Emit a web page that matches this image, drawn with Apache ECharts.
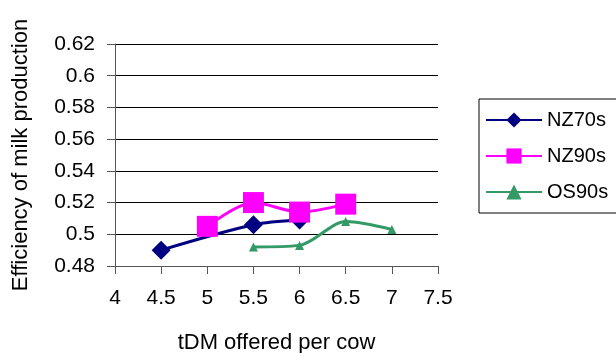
<!DOCTYPE html>
<html>
<head>
<meta charset="utf-8">
<script src="https://cdn.jsdelivr.net/npm/echarts@6/dist/echarts.min.js"></script>
<style>
  html, body { margin: 0; padding: 0; background: #fff; }
  #chart { width: 616px; height: 353px; }
</style>
</head>
<body>
<div id="chart"></div>
<script>
// Feed offered (tDM per cow) and efficiency of milk production per herd group
const nz70sX = [4.5, 5.5, 6.0];
const nz70sY = [0.490, 0.506, 0.509];
const nz90sX = [5.0, 5.5, 6.0, 6.5];
const nz90sY = [0.505, 0.520, 0.514, 0.519];
const os90sX = [5.5, 6.0, 6.5, 7.0];
const os90sY = [0.492, 0.493, 0.508, 0.503];

const xTitle = 'tDM offered per cow';
const yTitle = 'Efficiency of milk production';

const pairs = (xs, ys) => xs.map((x, i) => [x, ys[i]]);
const FONT = 'Liberation Sans, Arial, sans-serif';

const chart = echarts.init(document.getElementById('chart'), null, { renderer: 'canvas' });

chart.setOption({
  animation: false,
  backgroundColor: '#ffffff',
  grid: {
    left: 115, right: 178, top: 44, bottom: 87,
    containLabel: false,
    outerBoundsMode: 'none'
  },
  xAxis: {
    type: 'value',
    min: 4, max: 7.5, interval: 0.5,
    name: xTitle,
    nameLocation: 'middle',
    nameGap: 66,
    nameTextStyle: { fontFamily: FONT, fontSize: 22, color: '#000' },
    axisLine: { show: true, lineStyle: { color: '#555', width: 1 } },
    axisTick: { show: true, length: 8, lineStyle: { color: '#555' } },
    axisLabel: { fontFamily: FONT, fontSize: 21, color: '#000', margin: 22 },
    splitLine: { show: false }
  },
  yAxis: {
    type: 'value',
    min: 0.48, max: 0.62, interval: 0.02,
    name: yTitle,
    nameLocation: 'middle',
    nameGap: 83,
    nameTextStyle: { fontFamily: FONT, fontSize: 22, color: '#000' },
    axisLine: { show: true, lineStyle: { color: '#555', width: 1 } },
    axisTick: { show: true, length: 8, lineStyle: { color: '#555' } },
    axisLabel: { fontFamily: FONT, fontSize: 21, color: '#000', margin: 20 },
    splitLine: { show: true, lineStyle: { color: '#000', width: 1 } }
  },
  legend: {
    orient: 'vertical',
    left: 479, top: 99,
    padding: [11, 40, 11, 6],
    itemGap: 16,
    itemWidth: 56, itemHeight: 19,
    borderColor: '#000', borderWidth: 1,
    textStyle: { fontFamily: FONT, fontSize: 20, color: '#000' },
    data: ['NZ70s', 'NZ90s', 'OS90s']
  },
  series: [
    {
      name: 'NZ70s', type: 'line', smooth: 0.3,
      data: pairs(nz70sX, nz70sY),
      symbol: 'diamond', symbolSize: 19,
      lineStyle: { color: '#000080', width: 3 },
      itemStyle: { color: '#000080' },
      z: 2
    },
    {
      name: 'NZ90s', type: 'line', smooth: 0.3,
      data: pairs(nz90sX, nz90sY),
      symbol: 'rect', symbolSize: 21,
      lineStyle: { color: '#ff00ff', width: 3 },
      itemStyle: { color: '#ff00ff' },
      z: 3
    },
    {
      name: 'OS90s', type: 'line', smooth: 0.3,
      data: pairs(os90sX, os90sY),
      symbol: 'triangle', symbolSize: 9,
      lineStyle: { color: '#339966', width: 3 },
      itemStyle: { color: '#339966' },
      z: 4
    }
  ]
});
</script>
</body>
</html>
